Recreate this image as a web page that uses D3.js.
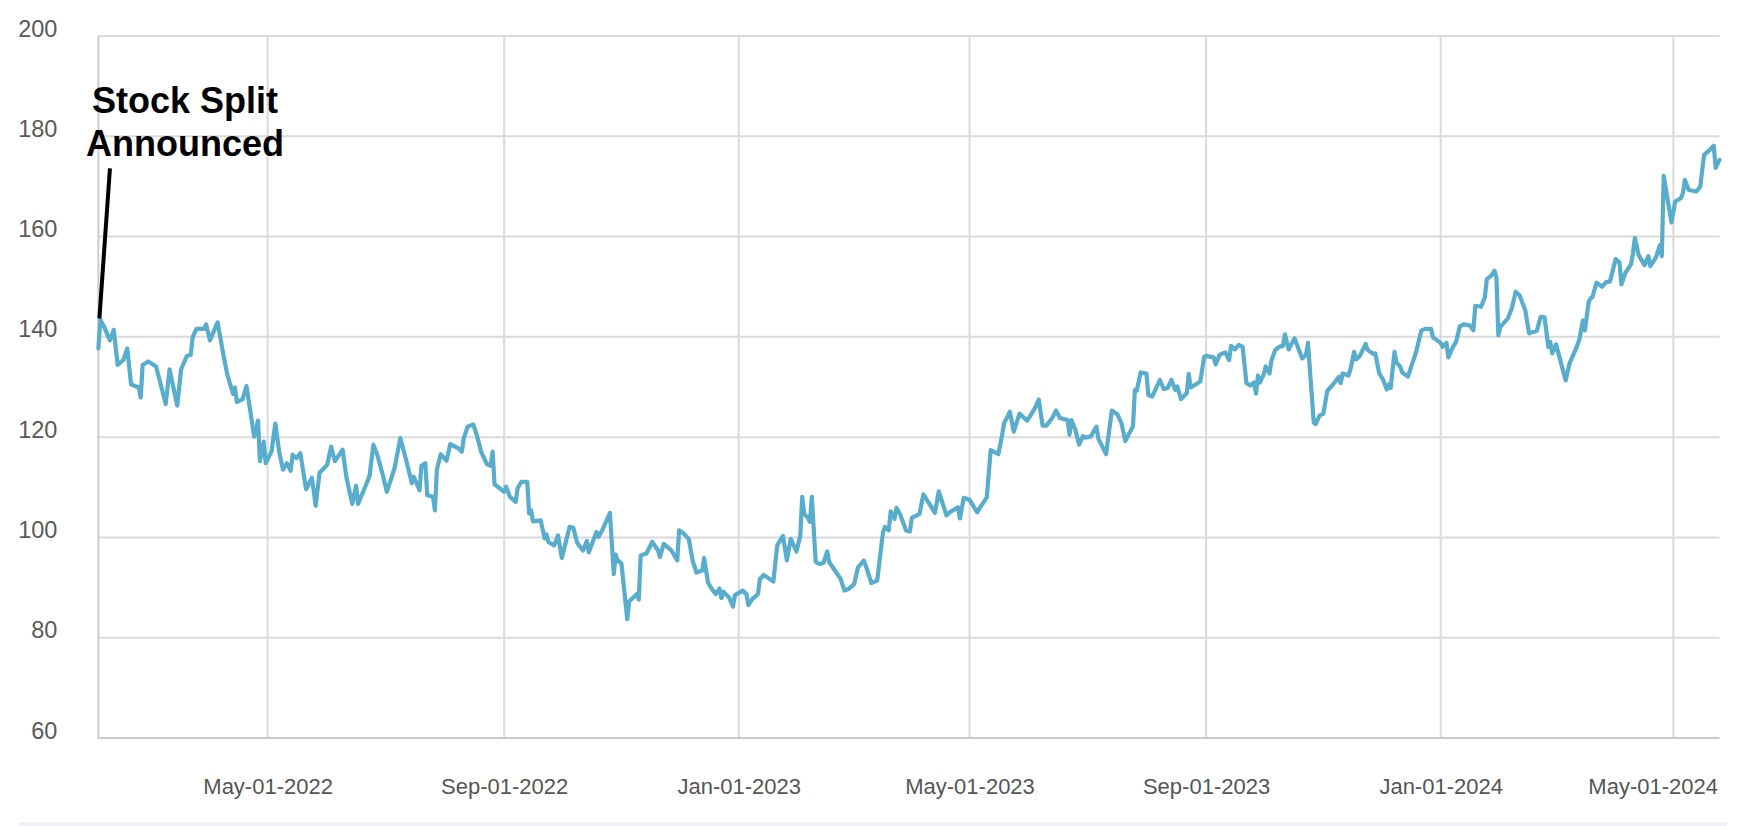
<!DOCTYPE html>
<html><head><meta charset="utf-8">
<script src="https://cdn.jsdelivr.net/npm/d3@7"></script>
<style>html,body{margin:0;padding:0;background:#fff;} svg{display:block;}</style>
</head><body>
<svg id="chart" width="1748" height="826"></svg>
<script>
const dates = [
"2022-02-02","2022-02-03","2022-02-05","2022-02-08","2022-02-10","2022-02-12","2022-02-15","2022-02-17","2022-02-19","2022-02-23","2022-02-24","2022-02-25","2022-02-28",
"2022-03-04","2022-03-09","2022-03-11","2022-03-15","2022-03-17","2022-03-20","2022-03-22","2022-03-23","2022-03-25","2022-03-29","2022-03-30",
"2022-04-01","2022-04-05","2022-04-08","2022-04-10","2022-04-13","2022-04-14","2022-04-15","2022-04-18","2022-04-20","2022-04-24","2022-04-26","2022-04-27","2022-04-29","2022-04-30",
"2022-05-03","2022-05-05","2022-05-07","2022-05-09","2022-05-11","2022-05-13","2022-05-14","2022-05-16","2022-05-18","2022-05-21","2022-05-24","2022-05-26","2022-05-28",
"2022-06-01","2022-06-03","2022-06-05","2022-06-09","2022-06-11","2022-06-14","2022-06-16","2022-06-17","2022-06-21","2022-06-23","2022-06-25","2022-06-27","2022-06-30",
"2022-07-02","2022-07-06","2022-07-09","2022-07-12","2022-07-15","2022-07-16","2022-07-19","2022-07-20","2022-07-22","2022-07-23","2022-07-26","2022-07-27","2022-07-28","2022-07-30",
"2022-08-02","2022-08-04","2022-08-08","2022-08-10","2022-08-11","2022-08-13","2022-08-16","2022-08-18","2022-08-20","2022-08-23","2022-08-25","2022-08-26","2022-08-27",
"2022-09-01","2022-09-02","2022-09-04","2022-09-07","2022-09-08","2022-09-10","2022-09-13","2022-09-14","2022-09-15","2022-09-16","2022-09-20","2022-09-22","2022-09-23","2022-09-24","2022-09-27","2022-09-29",
"2022-10-01","2022-10-05","2022-10-07","2022-10-09","2022-10-12","2022-10-14","2022-10-15","2022-10-19","2022-10-20","2022-10-22","2022-10-26","2022-10-28","2022-10-29","2022-10-30",
"2022-11-01","2022-11-04","2022-11-05","2022-11-09","2022-11-10","2022-11-11","2022-11-14","2022-11-17","2022-11-20","2022-11-21","2022-11-23","2022-11-27","2022-11-30",
"2022-12-01","2022-12-03","2022-12-06","2022-12-08","2022-12-10","2022-12-13","2022-12-14","2022-12-16","2022-12-18","2022-12-20","2022-12-22","2022-12-23","2022-12-24","2022-12-27","2022-12-29","2022-12-30",
"2023-01-03","2023-01-05","2023-01-06","2023-01-08","2023-01-11","2023-01-12","2023-01-14","2023-01-19","2023-01-21","2023-01-24","2023-01-26","2023-01-28","2023-01-31",
"2023-02-02","2023-02-03","2023-02-04","2023-02-06","2023-02-07","2023-02-08","2023-02-10","2023-02-12","2023-02-14","2023-02-16","2023-02-17","2023-02-20","2023-02-23","2023-02-25","2023-02-27",
"2023-03-02","2023-03-04","2023-03-07","2023-03-08","2023-03-11","2023-03-14","2023-03-17","2023-03-18","2023-03-20","2023-03-21","2023-03-23","2023-03-24","2023-03-26","2023-03-29","2023-03-31",
"2023-04-01","2023-04-05","2023-04-07","2023-04-10","2023-04-13","2023-04-15","2023-04-17","2023-04-19","2023-04-21","2023-04-25","2023-04-26","2023-04-28",
"2023-05-01","2023-05-05","2023-05-07","2023-05-10","2023-05-12","2023-05-16","2023-05-18","2023-05-19","2023-05-20","2023-05-22","2023-05-24","2023-05-27","2023-05-31",
"2023-06-02","2023-06-04","2023-06-06","2023-06-08","2023-06-10","2023-06-13","2023-06-15","2023-06-17","2023-06-21","2023-06-22","2023-06-23","2023-06-25","2023-06-27","2023-06-29","2023-06-30",
"2023-07-03","2023-07-06","2023-07-07","2023-07-11","2023-07-14","2023-07-17","2023-07-19","2023-07-21","2023-07-25","2023-07-26","2023-07-27","2023-07-29",
"2023-08-01","2023-08-02","2023-08-04","2023-08-08","2023-08-10","2023-08-12","2023-08-14","2023-08-16","2023-08-17","2023-08-19","2023-08-22","2023-08-23","2023-08-24","2023-08-29","2023-08-31",
"2023-09-01","2023-09-05","2023-09-06","2023-09-08","2023-09-11","2023-09-13","2023-09-14","2023-09-16","2023-09-18","2023-09-20","2023-09-22","2023-09-24","2023-09-26","2023-09-27","2023-09-28","2023-09-29",
"2023-10-01","2023-10-02","2023-10-04","2023-10-05","2023-10-07","2023-10-09","2023-10-11","2023-10-12","2023-10-13","2023-10-14","2023-10-17","2023-10-19","2023-10-21","2023-10-23","2023-10-24","2023-10-27","2023-10-28","2023-10-30",
"2023-11-01","2023-11-02","2023-11-03","2023-11-06","2023-11-09","2023-11-10","2023-11-11","2023-11-14","2023-11-15","2023-11-17","2023-11-18","2023-11-20","2023-11-23","2023-11-24","2023-11-27","2023-11-28","2023-11-30",
"2023-12-02","2023-12-04","2023-12-05","2023-12-06","2023-12-08","2023-12-09","2023-12-11","2023-12-12","2023-12-15","2023-12-17","2023-12-19","2023-12-22","2023-12-24","2023-12-27","2023-12-28",
"2024-01-01","2024-01-02","2024-01-04","2024-01-05","2024-01-07","2024-01-09","2024-01-11","2024-01-13","2024-01-16","2024-01-18","2024-01-19","2024-01-22","2024-01-24","2024-01-25","2024-01-27","2024-01-28","2024-01-29","2024-01-30","2024-01-31",
"2024-02-01","2024-02-05","2024-02-07","2024-02-09","2024-02-11","2024-02-13","2024-02-14","2024-02-16","2024-02-20","2024-02-22","2024-02-24","2024-02-26","2024-02-27","2024-02-28",
"2024-03-01","2024-03-06","2024-03-08","2024-03-11","2024-03-13","2024-03-15","2024-03-16","2024-03-18","2024-03-19","2024-03-20","2024-03-22","2024-03-25","2024-03-27","2024-03-29",
"2024-04-01","2024-04-03","2024-04-04","2024-04-06","2024-04-09","2024-04-10","2024-04-11","2024-04-13","2024-04-16","2024-04-18","2024-04-19","2024-04-22","2024-04-24","2024-04-25","2024-04-26","2024-04-30",
"2024-05-02","2024-05-05","2024-05-06","2024-05-07","2024-05-09","2024-05-13","2024-05-15","2024-05-17","2024-05-20","2024-05-22","2024-05-23","2024-05-25"
];
const prices = [
137.7,143.4,142.0,139.3,141.4,134.4,135.4,137.7,130.5,129.9,127.9,134.4,135.1,
134.1,126.6,133.5,126.3,133.5,136.2,136.4,139.9,141.6,141.6,142.5,
139.3,142.9,136.4,132.5,128.6,129.9,127.0,127.6,130.2,120.1,123.3,115.2,119.1,114.8,
117.1,122.7,117.1,113.5,114.8,113.3,116.5,115.8,116.8,109.6,111.9,106.3,112.9,
114.5,118.1,115.2,117.5,111.9,106.7,110.3,106.7,110.3,112.3,118.5,116.5,112.3,
109.1,113.8,119.8,115.5,110.8,112.1,109.4,114.3,114.8,108.4,108.1,105.4,113.5,116.6,
115.3,118.6,117.8,117.1,119.8,122.1,122.5,120.1,117.1,114.6,114.3,117.1,110.6,
109.1,110.1,108.1,107.1,109.8,111.1,111.1,104.8,105.4,103.2,103.4,99.8,100.6,99.1,98.4,100.4,
95.9,102.1,101.9,98.9,97.4,99.3,97.0,101.1,100.1,101.4,104.9,92.7,96.6,95.4,
94.8,83.7,87.2,88.7,87.6,96.4,96.8,99.1,97.4,96.1,98.7,97.4,95.4,
101.4,100.9,99.7,95.4,93.0,93.4,95.9,91.0,89.7,88.7,89.8,87.9,89.2,88.0,86.2,88.5,
89.4,88.7,86.5,87.7,88.7,91.7,92.5,91.2,98.4,100.3,95.4,99.7,97.2,
100.4,108.1,104.7,103.9,103.1,108.1,95.1,94.7,94.9,97.2,95.1,93.4,91.7,89.4,89.7,
90.7,94.0,95.4,94.4,90.9,91.4,101.0,102.1,101.4,105.2,103.7,105.9,104.5,101.4,101.2,
103.9,104.7,108.6,106.8,104.9,109.2,106.8,104.4,105.1,106.0,103.8,107.9,
107.5,105.0,106.3,108.0,117.4,116.6,120.5,122.8,123.5,125.1,121.1,124.7,123.3,
124.5,125.8,127.5,122.3,122.3,123.8,125.3,123.8,123.4,120.5,123.4,121.5,118.5,120.2,119.9,
120.1,122.1,119.7,116.6,125.3,124.5,122.8,119.2,122.2,129.4,129.3,132.9,
132.7,128.4,128.1,131.4,129.6,129.8,131.4,129.4,130.1,127.6,128.8,132.6,129.9,131.1,136.0,
136.2,135.9,134.5,136.4,136.9,135.4,138.2,137.5,138.4,138.0,130.8,130.3,130.9,128.7,132.3,130.9,
132.5,134.1,132.7,135.3,137.4,138.0,138.2,140.5,139.0,137.5,139.7,137.7,135.7,136.4,138.8,122.9,122.6,124.3,
124.7,126.9,129.2,130.5,132.0,130.8,132.7,132.3,133.4,137.0,135.5,136.2,138.6,137.4,136.6,136.7,132.8,
131.5,129.5,130.5,129.8,137.0,134.9,134.0,132.9,132.1,134.4,136.7,141.3,141.6,141.6,139.9,
138.8,138.0,138.8,135.9,137.7,139.0,142.1,142.5,142.3,141.3,146.2,146.0,147.9,151.5,152.1,152.6,153.2,151.8,140.3,
142.0,143.7,145.7,149.0,148.3,146.3,145.3,140.7,141.2,144.0,143.9,138.0,139.0,136.7,
138.5,131.3,134.7,137.3,139.3,143.3,141.3,147.0,147.7,148.0,150.8,150.0,150.9,151.0,
155.5,154.8,150.5,152.7,154.5,156.7,159.7,156.3,154.3,156.1,154.1,155.9,158.3,156.1,172.1,162.8,
167.0,167.7,168.7,171.3,169.3,169.0,170.0,176.3,177.3,178.1,173.7,175.3
];
const yTicks = [60, 80, 100, 120, 140, 160, 180, 200];
const xTickDates = ["2022-05-01","2022-09-01","2023-01-01","2023-05-01","2023-09-01","2024-01-01","2024-05-01"];
const annotationText = ["Stock Split", "Announced"];
const annotationPoint = ["2022-02-02", 143.7];
const annotationTail = ["2022-02-08", 173.6];
const annotationLabel = ["2022-03-19", 184.6];

const W = 1748, H = 826;
const margin = {left: 98.4, right: 28.5, top: 36, bottom: 88};
const FONT = "'Liberation Sans', Arial, Helvetica, sans-serif";
const parse = d3.timeParse("%Y-%m-%d");
const data = dates.map((d, i) => ({date: parse(d), value: prices[i]}));

const x = d3.scaleTime().domain(d3.extent(data, d => d.date)).range([margin.left, W - margin.right]);
const y = d3.scaleLinear().domain([60, 200]).range([H - margin.bottom, margin.top]);

const svg = d3.select("#chart");
svg.append("rect").attr("width", W).attr("height", H).attr("fill", "#fff");

// footer strip
svg.append("rect").attr("x", 19).attr("y", 822).attr("width", 1708).attr("height", 4).attr("fill", "#f1f2f5");

// horizontal grid
svg.append("g").selectAll("line").data(yTicks.filter(t => t !== 60)).join("line")
  .attr("x1", margin.left).attr("x2", W - margin.right)
  .attr("y1", d => y(d)).attr("y2", d => y(d))
  .attr("stroke", "#dadada").attr("stroke-width", 2);

// vertical grid
const xTicks = xTickDates.map(parse);
svg.append("g").selectAll("line").data(xTicks).join("line")
  .attr("x1", d => x(d)).attr("x2", d => x(d))
  .attr("y1", margin.top).attr("y2", H - margin.bottom)
  .attr("stroke", "#dadada").attr("stroke-width", 2);

// axis lines
svg.append("line").attr("x1", margin.left).attr("x2", margin.left)
  .attr("y1", margin.top).attr("y2", H - margin.bottom + 1)
  .attr("stroke", "#c9ccd7").attr("stroke-width", 2);
svg.append("line").attr("x1", margin.left - 1).attr("x2", W - margin.right)
  .attr("y1", H - margin.bottom).attr("y2", H - margin.bottom)
  .attr("stroke", "#c6c9d4").attr("stroke-width", 2);

// y axis labels
const yAxis = svg.append("g").attr("transform", `translate(${margin.left},0)`)
  .call(d3.axisLeft(y).tickValues(yTicks).tickSize(0).tickPadding(41).tickFormat(d3.format("d")));
yAxis.select(".domain").remove();
yAxis.selectAll("text").attr("dy", 0).attr("font-size", 23.5).attr("font-family", FONT).attr("fill", "#595959");

// x axis labels
const xAxis = svg.append("g").attr("transform", `translate(0,${H - margin.bottom})`)
  .call(d3.axisBottom(x).tickValues(xTicks).tickSize(0).tickFormat(d3.timeFormat("%b-%d-%Y")));
xAxis.select(".domain").remove();
xAxis.selectAll("text").attr("y", 56).attr("dy", 0).attr("font-size", 22).attr("font-family", FONT).attr("fill", "#555");
// keep labels inside the plot width (last label is justified to the right edge)
xAxis.selectAll(".tick").each(function(d) {
  const t = d3.select(this).select("text");
  const len = t.node().getComputedTextLength();
  const rightEdge = W - margin.right - 2;
  if (x(d) + len / 2 > rightEdge) {
    t.attr("text-anchor", "end").attr("x", rightEdge - x(d));
  }
});

// price line
const line = d3.line().x(d => x(d.date)).y(d => y(d.value));
svg.append("path").datum(data)
  .attr("d", line).attr("fill", "none")
  .attr("stroke", "#58adcc").attr("stroke-width", 4.2)
  .attr("stroke-linejoin", "round").attr("stroke-linecap", "round");

// annotation
svg.append("line")
  .attr("x1", x(parse(annotationPoint[0])) + 1).attr("y1", y(annotationPoint[1]))
  .attr("x2", x(parse(annotationTail[0]))).attr("y2", y(annotationTail[1]))
  .attr("stroke", "#000").attr("stroke-width", 4);
const label = svg.append("text")
  .attr("x", x(parse(annotationLabel[0]))).attr("y", y(annotationLabel[1]))
  .attr("text-anchor", "middle").attr("font-family", FONT)
  .attr("font-weight", "bold").attr("font-size", 36).attr("fill", "#000");
label.selectAll("tspan").data(annotationText).join("tspan")
  .attr("x", x(parse(annotationLabel[0])))
  .attr("dy", (d, i) => i === 0 ? 0 : 43)
  .text(d => d);
</script>
</body></html>
